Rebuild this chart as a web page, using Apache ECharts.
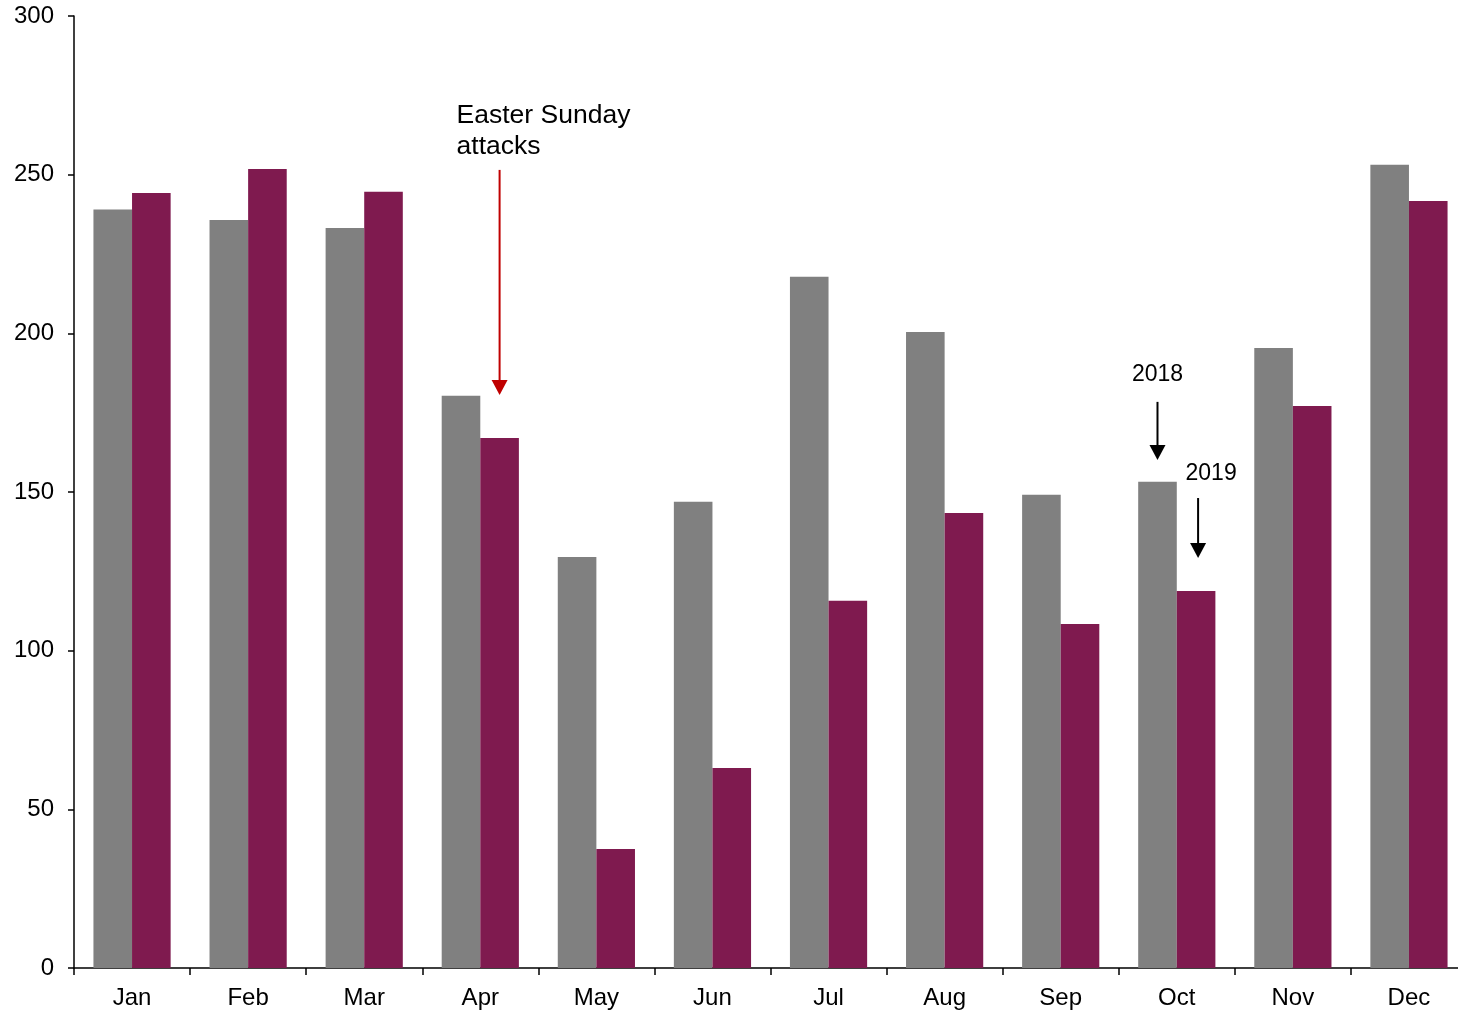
<!DOCTYPE html>
<html>
<head>
<meta charset="utf-8">
<script src="https://cdn.jsdelivr.net/npm/echarts@6/dist/echarts.min.js"></script>
<style>
html,body{margin:0;padding:0;background:#fff;overflow:hidden;}
#main{width:1458px;height:1011px;}
</style>
</head>
<body>
<div id="main"></div>
<script>
const months = ['Jan','Feb','Mar','Apr','May','Jun','Jul','Aug','Sep','Oct','Nov','Dec'];
const values2018 = [239.0, 235.7, 233.2, 180.3, 129.5, 146.9, 217.8, 200.4, 149.1, 153.2, 195.4, 253.1];
const values2019 = [244.2, 251.8, 244.6, 167.0, 37.5, 63.0, 115.7, 143.4, 108.4, 118.8, 177.1, 241.7];
const yTicks = [0, 50, 100, 150, 200, 250, 300];

// annotations: [category, series index, arrow start value, arrow tip value, label, label value]
const easterNote = {cat: 'Apr', series: 1, from: 251.5, to: 180.6, text: 'Easter Sunday\nattacks', textValue: 273.5};
const yearNotes = [
  {cat: 'Oct', series: 0, from: 178.4, to: 160.1, text: '2018', textValue: 186.9, dx: 0},
  {cat: 'Oct', series: 1, from: 148.1, to: 129.2, text: '2019', textValue: 155.7, dx: 13}
];

const FONT = 'Liberation Sans, Arial, sans-serif';
const GAP = 0.335;

const chart = echarts.init(document.getElementById('main'), null, {renderer: 'canvas'});
chart.setOption({
  animation: false,
  backgroundColor: '#ffffff',
  grid: {left: 74, top: 16, height: 952, width: 1393, containLabel: false, outerBoundsMode: 'none'},
  xAxis: {
    type: 'category',
    data: months,
    axisLine: {show: true, lineStyle: {color: '#000', width: 1.5}},
    axisTick: {show: true, length: 7, interval: 0, lineStyle: {color: '#000', width: 1.5}},
    axisLabel: {color: '#000', fontSize: 24, fontFamily: FONT, margin: 18, interval: 0},
    splitLine: {show: false}
  },
  yAxis: {
    type: 'value',
    min: yTicks[0],
    max: yTicks[yTicks.length - 1],
    interval: yTicks[1] - yTicks[0],
    axisLine: {show: true, lineStyle: {color: '#000', width: 1.5}},
    axisTick: {show: true, length: 6, lineStyle: {color: '#000', width: 1.5}},
    axisLabel: {color: '#000', fontSize: 24, fontFamily: FONT, margin: 20},
    splitLine: {show: false}
  },
  series: [
    {name: '2018', type: 'bar', data: values2018, itemStyle: {color: '#808080'},
     barGap: '0%', barCategoryGap: (GAP * 100) + '%'},
    {name: '2019', type: 'bar', data: values2019, itemStyle: {color: '#7F1A4F'},
     barGap: '0%', barCategoryGap: (GAP * 100) + '%'}
  ]
});

function barX(cat, series) {
  const i = months.indexOf(cat);
  const c = chart.convertToPixel({gridIndex: 0}, [i, 0])[0];
  const c2 = chart.convertToPixel({gridIndex: 0}, [1, 0])[0] - chart.convertToPixel({gridIndex: 0}, [0, 0])[0];
  const bw = c2 * (1 - GAP) / 2;
  return series === 0 ? c - bw / 2 : c + bw / 2;
}
function yPx(v) { return chart.convertToPixel({gridIndex: 0}, [0, v])[1]; }

function arrow(x, y1, y2, color) {
  const hh = 15, hw = 8;
  return [
    {type: 'line', shape: {x1: x, y1: y1, x2: x, y2: y2 - hh + 1}, style: {stroke: color, lineWidth: 2}},
    {type: 'polygon', shape: {points: [[x - hw, y2 - hh], [x + hw, y2 - hh], [x, y2]]}, style: {fill: color}}
  ];
}

const g = [];
{
  const x = barX(easterNote.cat, easterNote.series);
  g.push(...arrow(x, yPx(easterNote.from), yPx(easterNote.to), '#C00000'));
  g.push({type: 'text', x: x - 43, y: yPx(easterNote.textValue),
    style: {text: easterNote.text, font: '26.5px ' + FONT, fill: '#000', textAlign: 'left', textVerticalAlign: 'top', lineHeight: 31}});
}
yearNotes.forEach(n => {
  const x = barX(n.cat, n.series) + (n.series === 1 ? 2 : 0);
  g.push(...arrow(x, yPx(n.from), yPx(n.to), '#000'));
  g.push({type: 'text', x: x + n.dx, y: yPx(n.textValue),
    style: {text: n.text, font: '23px ' + FONT, fill: '#000', textAlign: 'center', textVerticalAlign: 'middle'}});
});
chart.setOption({graphic: {elements: g}});
</script>
</body>
</html>
